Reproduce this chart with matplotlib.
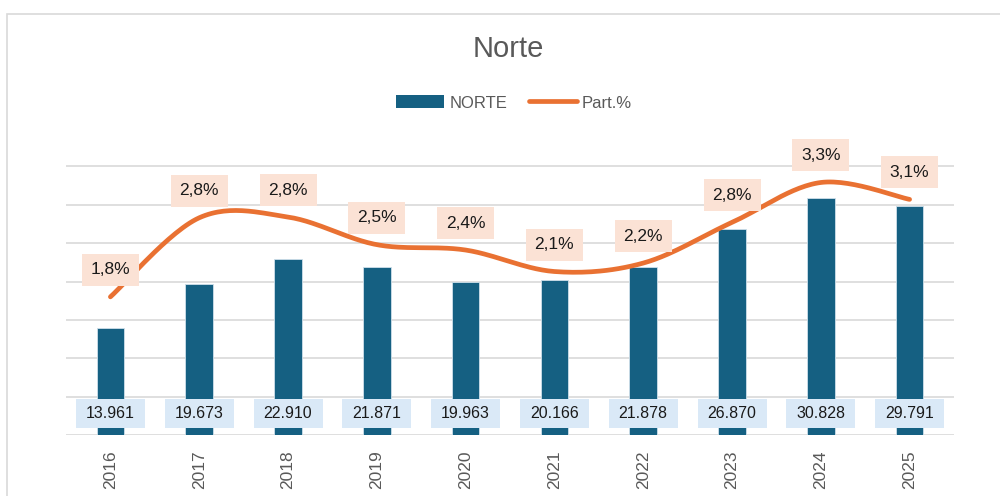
import numpy as np
import matplotlib
matplotlib.use("Agg")
import matplotlib.pyplot as plt
from matplotlib.patches import Rectangle, Patch
from matplotlib.lines import Line2D

years = ["2016", "2017", "2018", "2019", "2020", "2021", "2022", "2023", "2024", "2025"]
norte = [13961, 19673, 22910, 21871, 19963, 20166, 21878, 26870, 30828, 29791]
part_pct = [1.80, 2.83, 2.84, 2.48, 2.41, 2.13, 2.24, 2.77, 3.29, 3.07]

BAR = "#156082"
LINE = "#E97132"
GRID = "#D9D9D9"
GRAY = "#595959"
FONT = ["Liberation Sans", "DejaVu Sans"]

fig = plt.figure(figsize=(10, 4.96), dpi=100)
fig.patch.set_facecolor("white")

# outer chart border
fig.patches.append(Rectangle((7 / 1000, -0.2), 1.2, 1 - 14 / 496 + 0.2,
                             transform=fig.transFigure, fill=False,
                             edgecolor=GRID, linewidth=1.2, zorder=0))

ax = fig.add_axes([0.066, 1 - 435 / 496, 0.888, (435 - 128) / 496])
ax.set_facecolor("none")
x = np.arange(len(years))

ax.bar(x, norte, width=0.31, color=BAR, edgecolor="#cfe0ea", linewidth=0.6, zorder=2)
ax.set_xlim(-0.5, len(years) - 0.5)
ax.set_ylim(0, 40000)

ax2 = ax.twinx()
ax2.set_ylim(0, 4.0)
ax2.axis("off")

ax.set_yticks(np.arange(0, 40000, 5000))
ax.grid(axis="y", color=GRID, linewidth=1.2, zorder=0)
ax.set_axisbelow(True)
for s in ax.spines.values():
    s.set_visible(False)
ax.tick_params(axis="y", left=False, right=False, labelleft=False, labelright=False)
ax.set_xticks(x)
ax.set_xticklabels(years, rotation=90, color=GRAY, fontsize=12.5, family=FONT)
ax.tick_params(axis="x", length=0, pad=11)

# value labels on bars (light blue boxes)
px_per_cat = 888 / len(years)
px_per_unit = 307 / 40000
bw, bh = 69 / px_per_cat, 29 / px_per_unit
yc = 22 / px_per_unit
for xi, v in zip(x, norte):
    ax.add_patch(Rectangle((xi - bw / 2, yc - bh / 2), bw, bh, facecolor="#DAE9F7",
                           edgecolor="none", zorder=4, clip_on=False))
    ax.text(xi, yc, f"{v:,}".replace(",", "."), ha="center", va="center",
            fontsize=11.5, family=FONT, color="#1a1a1a", zorder=5)

# smoothed line (Catmull-Rom Bezier through the data points)
px = x.astype(float)
py = np.array(part_pct, dtype=float)
n = len(px)
cx, cy = [], []
t = np.linspace(0, 1, 30)
for i in range(n - 1):
    p0 = np.array([px[max(i - 1, 0)], py[max(i - 1, 0)]])
    p1 = np.array([px[i], py[i]])
    p2 = np.array([px[i + 1], py[i + 1]])
    p3 = np.array([px[min(i + 2, n - 1)], py[min(i + 2, n - 1)]])
    c1 = p1 + (p2 - p0) / 6
    c2 = p2 - (p3 - p1) / 6
    b = ((1 - t) ** 3)[:, None] * p1 + (3 * (1 - t) ** 2 * t)[:, None] * c1 + \
        (3 * (1 - t) * t ** 2)[:, None] * c2 + (t ** 3)[:, None] * p2
    cx.extend(b[:, 0]); cy.extend(b[:, 1])
ax2.plot(cx, cy, color=LINE, linewidth=3.4, solid_capstyle="round", zorder=3)

ppu2 = 307 / 4.0
lw, lh = 57 / px_per_cat, 32 / ppu2
off = 27 / ppu2
for xi, v in zip(px, py):
    ax2.add_patch(Rectangle((xi - lw / 2, v + off - lh / 2), lw, lh, facecolor="#FBE2D5",
                            edgecolor="none", zorder=5, clip_on=False))
    ax2.text(xi, v + off, f"{v:.1f}%".replace(".", ","), ha="center", va="center",
             fontsize=12.5, family=FONT, color="#1a1a1a", zorder=6)

fig.text(0.508, 1 - 49 / 496, "Norte", ha="center", va="center",
         fontsize=21, color=GRAY, family=FONT)

handles = [Patch(facecolor=BAR, edgecolor="none"),
           Line2D([0], [0], color=LINE, linewidth=3.4, solid_capstyle="round")]
leg = fig.legend(handles, ["NORTE", "Part.%"], loc="center", ncol=2,
                 bbox_to_anchor=(0.514, 1 - 103 / 496), frameon=False,
                 prop=dict(family=FONT, size=12), handlelength=2.9,
                 handleheight=0.8, columnspacing=1.3, handletextpad=0.3)
for txt in leg.get_texts():
    txt.set_color(GRAY)

fig.savefig("out.png", dpi=100, facecolor="white")
